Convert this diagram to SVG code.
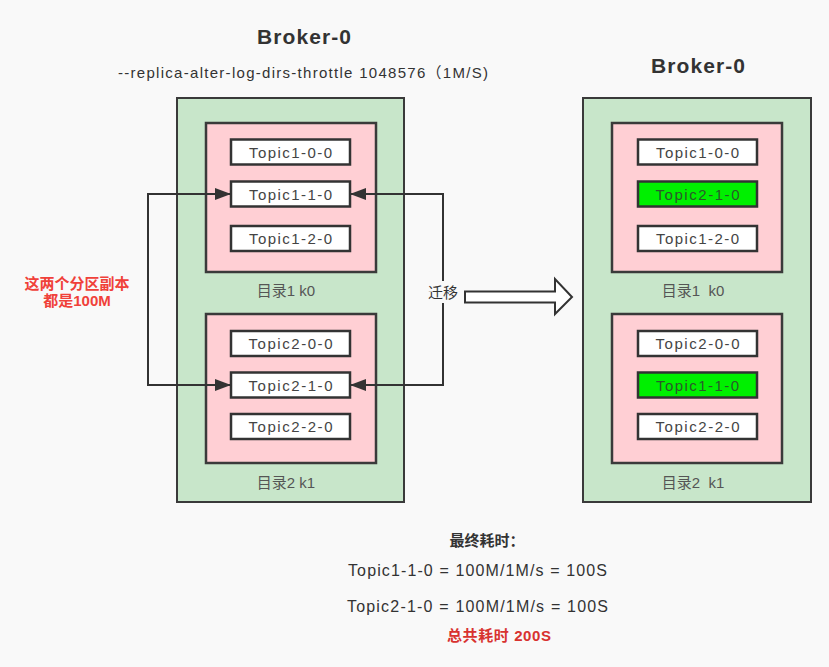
<svg xmlns="http://www.w3.org/2000/svg" width="829" height="667" viewBox="0 0 829 667">
<defs>
<style>
text{font-family:"Liberation Sans","Noto Sans CJK SC",sans-serif;fill:#333;text-anchor:middle;dominant-baseline:central}
.broker{fill:#c8e6ca;stroke:#3a3a3a;stroke-width:2}
.dir{fill:#ffcfd4;stroke:#3a3a3a;stroke-width:2.5}
.topic{fill:#ffffff;stroke:#333;stroke-width:2.5}
.moved{fill:#00f000;stroke:#333;stroke-width:2.5}
.tt{font-size:15px;fill:#444}
.dl{font-size:15px;fill:#555}
.title{font-size:21px;font-weight:bold;fill:#333}
.conn{fill:none;stroke:#333;stroke-width:2}
.red{fill:#f0413a;font-size:15px;font-weight:bold}
</style>
<marker id="ah" viewBox="0 0 16 12" refX="16" refY="6" markerWidth="16" markerHeight="12" markerUnits="userSpaceOnUse" orient="auto-start-reverse">
<path d="M0,0 L16,6 L0,12 Z" fill="#333"/>
</marker>
</defs>
<rect width="829" height="667" fill="#f9f9f9"/>

<text class="title" x="304" y="36" textLength="94" lengthAdjust="spacing">Broker-0</text>
<text x="303" y="72" style="font-size:15px" textLength="370" lengthAdjust="spacing">--replica-alter-log-dirs-throttle 1048576（1M/S)</text>

<g id="broker-left">
<rect class="broker" x="177" y="98" width="227" height="404"/>
</g>
<g id="dir1-left">
<rect class="dir" x="206" y="123" width="170" height="149"/>
<text class="dl" x="286" y="290">目录1 k0</text>
</g>
<g id="l-topic1-0-0"><rect class="topic" x="231" y="139.5" width="119" height="25"/><text class="tt" x="290.5" y="152" textLength="83" lengthAdjust="spacing">Topic1-0-0</text></g>
<g id="l-topic1-1-0"><rect class="topic" x="231" y="181.5" width="119" height="25"/><text class="tt" x="290.5" y="194" textLength="83" lengthAdjust="spacing">Topic1-1-0</text></g>
<g id="l-topic1-2-0"><rect class="topic" x="231" y="226" width="119" height="25"/><text class="tt" x="290.5" y="238.5" textLength="83" lengthAdjust="spacing">Topic1-2-0</text></g>
<g id="dir2-left">
<rect class="dir" x="206" y="314" width="170" height="149"/>
<text class="dl" x="286" y="482">目录2 k1</text>
</g>
<g id="l-topic2-0-0"><rect class="topic" x="231" y="331" width="119" height="25"/><text class="tt" x="290.5" y="343.5" textLength="84" lengthAdjust="spacing">Topic2-0-0</text></g>
<g id="l-topic2-1-0"><rect class="topic" x="231" y="372.5" width="119" height="25"/><text class="tt" x="290.5" y="385" textLength="84" lengthAdjust="spacing">Topic2-1-0</text></g>
<g id="l-topic2-2-0"><rect class="topic" x="231" y="414" width="119" height="25"/><text class="tt" x="290.5" y="426.5" textLength="84" lengthAdjust="spacing">Topic2-2-0</text></g>

<g id="connectors">
<path class="conn" d="M231,194 H148 V385 H231" marker-start="url(#ah)" marker-end="url(#ah)"/>
<path class="conn" d="M350,194 H443 V385 H350" marker-start="url(#ah)" marker-end="url(#ah)"/>
<rect x="426" y="281" width="34" height="22" fill="#f9f9f9"/>
<text x="443" y="292" style="font-size:15px">迁移</text>
<path d="M465,291.5 H555 V279 L572,297 L555,314 V302.5 H465 Z" fill="#fff" stroke="#333" stroke-width="2"/>
</g>

<g id="note-left">
<text class="red" x="77" y="283">这两个分区副本</text>
<text class="red" x="77" y="300">都是100M</text>
</g>

<text class="title" x="698" y="65" textLength="94" lengthAdjust="spacing">Broker-0</text>
<g id="broker-right">
<rect class="broker" x="583" y="98" width="228" height="404"/>
</g>
<g id="dir1-right">
<rect class="dir" x="612" y="123" width="170" height="149"/>
<text class="dl" x="693" y="290" xml:space="preserve">目录1  k0</text>
</g>
<g id="r-topic1-0-0"><rect class="topic" x="638" y="139.5" width="119" height="25"/><text class="tt" x="697.5" y="152" textLength="83" lengthAdjust="spacing">Topic1-0-0</text></g>
<g id="r-topic2-1-0"><rect class="moved" x="638" y="181.5" width="119" height="25"/><text class="tt" x="697.5" y="194" style="fill:#2a5a2a" textLength="84" lengthAdjust="spacing">Topic2-1-0</text></g>
<g id="r-topic1-2-0"><rect class="topic" x="638" y="226" width="119" height="25"/><text class="tt" x="697.5" y="238.5" textLength="83" lengthAdjust="spacing">Topic1-2-0</text></g>
<g id="dir2-right">
<rect class="dir" x="612" y="314" width="170" height="149"/>
<text class="dl" x="693" y="482" xml:space="preserve">目录2  k1</text>
</g>
<g id="r-topic2-0-0"><rect class="topic" x="638" y="331" width="119" height="25"/><text class="tt" x="697.5" y="343.5" textLength="84" lengthAdjust="spacing">Topic2-0-0</text></g>
<g id="r-topic1-1-0"><rect class="moved" x="638" y="372.5" width="119" height="25"/><text class="tt" x="697.5" y="385" style="fill:#2a5a2a" textLength="83" lengthAdjust="spacing">Topic1-1-0</text></g>
<g id="r-topic2-2-0"><rect class="topic" x="638" y="414" width="119" height="25"/><text class="tt" x="697.5" y="426.5" textLength="84" lengthAdjust="spacing">Topic2-2-0</text></g>

<g id="summary">
<text x="487" y="540" style="font-size:15px;font-weight:bold">最终耗时：</text>
<text x="477.5" y="570" style="font-size:16px" textLength="259" lengthAdjust="spacing">Topic1-1-0 = 100M/1M/s = 100S</text>
<text x="477.5" y="606" style="font-size:16px" textLength="261" lengthAdjust="spacing">Topic2-1-0 = 100M/1M/s = 100S</text>
<text x="499" y="635" style="font-size:15px;font-weight:bold;fill:#d8322f" textLength="104" lengthAdjust="spacing">总共耗时 200S</text>
</g>
</svg>
